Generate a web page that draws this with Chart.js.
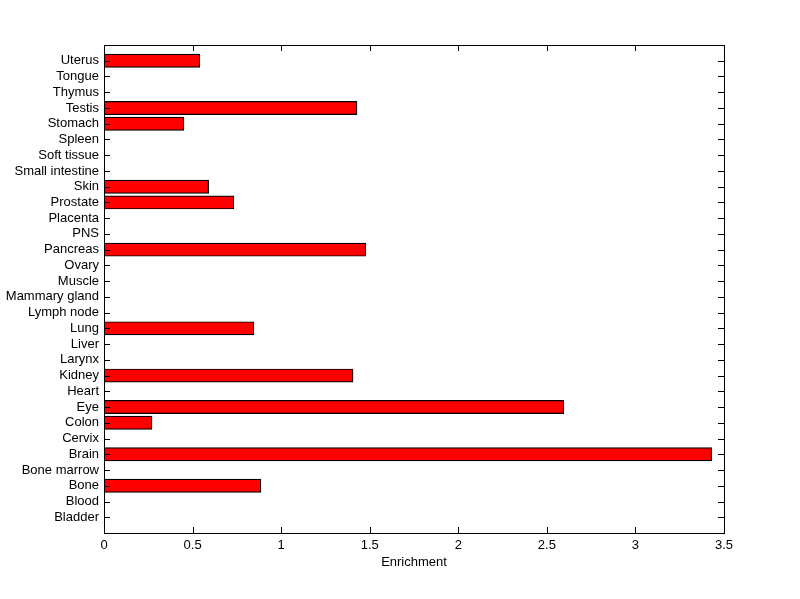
<!DOCTYPE html>
<html>
<head>
<meta charset="utf-8">
<script src="https://cdn.jsdelivr.net/npm/chart.js@4"></script>
<style>
  body { margin: 0; background: #fff; }
  #wrap { width: 800px; height: 599px; }
</style>
</head>
<body>
<div id="wrap"><canvas id="myChart" width="800" height="599"></canvas></div>
<script>
// tissues, bottom to top (as in the figure)
const tissues = ['Bladder', 'Blood', 'Bone', 'Bone marrow', 'Brain', 'Cervix', 'Colon', 'Eye',
    'Heart', 'Kidney', 'Larynx', 'Liver', 'Lung', 'Lymph node', 'Mammary gland', 'Muscle',
    'Ovary', 'Pancreas', 'PNS', 'Placenta', 'Prostate', 'Skin', 'Small intestine',
    'Soft tissue', 'Spleen', 'Stomach', 'Testis', 'Thymus', 'Tongue', 'Uterus'];
const enrichment = [0, 0, 0.885, 0, 3.43, 0, 0.27, 2.595,
    0, 1.405, 0, 0, 0.845, 0, 0, 0,
    0, 1.477, 0, 0, 0.732, 0.59, 0,
    0, 0, 0.45, 1.427, 0, 0, 0.54];
const xTicks = [0, 0.5, 1, 1.5, 2, 2.5, 3, 3.5];

Chart.defaults.font = { family: 'Liberation Sans, Arial, sans-serif', size: 13 };
Chart.defaults.color = '#000';

// matlab style box with inward ticks
const boxPlugin = {
    id: 'box',
    afterDraw(chart) {
        const ctx = chart.ctx;
        const a = chart.chartArea;
        const xs = chart.scales.x, ys = chart.scales.y;
        ctx.save();
        ctx.strokeStyle = '#000';
        ctx.lineWidth = 1;
        ctx.strokeRect(Math.round(a.left) + 0.5, Math.round(a.top) + 0.5,
            Math.round(a.right - a.left), Math.round(a.bottom - a.top));
        ctx.beginPath();
        ys.ticks.forEach(t => {
            const y = Math.round(ys.getPixelForValue(t.value)) + 0.5;
            ctx.moveTo(a.left, y); ctx.lineTo(a.left + 6, y);
            ctx.moveTo(a.right, y); ctx.lineTo(a.right - 6, y);
        });
        xs.ticks.forEach(t => {
            const x = Math.round(xs.getPixelForValue(t.value)) + 0.5;
            ctx.moveTo(x, a.bottom); ctx.lineTo(x, a.bottom - 6);
            ctx.moveTo(x, a.top); ctx.lineTo(x, a.top + 6);
        });
        ctx.stroke();
        ctx.restore();
    }
};

var ctx = document.getElementById('myChart');
var myChart = new Chart(ctx, {
    type: 'bar',
    data: {
        datasets: [{
            data: enrichment.map((v, i) => ({ x: v, y: i + 1 })),
            backgroundColor: '#ff0000',
            borderColor: '#000',
            borderWidth: c => (c.raw && c.raw.x > 0 ? 1.2 : 0),
            borderSkipped: false,
            inflateAmount: 0.5,
            barPercentage: 0.82,
            categoryPercentage: 1
        }]
    },
    plugins: [boxPlugin],
    options: {
        indexAxis: 'y',
        responsive: false,
        animation: false,
        events: [],
        layout: { padding: { top: 45, right: 76, left: 0, bottom: 0 } },
        plugins: {
            legend: { display: false },
            tooltip: { enabled: false }
        },
        scales: {
            x: {
                type: 'linear',
                min: 0,
                max: 3.5,
                afterBuildTicks: s => { s.ticks = xTicks.map(v => ({ value: v })); },
                grid: { display: false, drawTicks: false },
                border: { display: false },
                ticks: { padding: 5, maxRotation: 0, callback: v => String(v) },
                title: { display: true, text: 'Enrichment', padding: { top: 0, bottom: 29 } },
                afterFit: s => { s.height = 66; }
            },
            y: {
                type: 'linear',
                min: 0,
                max: 31,
                offset: false,
                afterBuildTicks: s => { s.ticks = tissues.map((t, i) => ({ value: i + 1 })); },
                grid: { display: false, drawTicks: false },
                border: { display: false },
                ticks: {
                    autoSkip: false,
                    padding: 5,
                    callback: v => tissues[v - 1] || ''
                },
                afterFit: s => { s.width = 104; }
            }
        }
    }
});
</script>
</body>
</html>
